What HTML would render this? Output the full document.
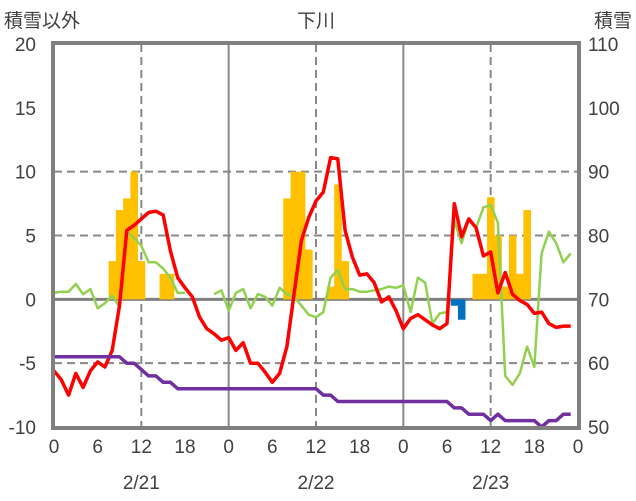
<!DOCTYPE html>
<html><head><meta charset="utf-8"><style>
body{margin:0;background:#fff;}
svg{display:block;font-family:"Liberation Sans","Noto Sans CJK JP",sans-serif;}
</style></head><body>
<svg id="chart" width="636" height="501" viewBox="0 0 636 501" xmlns="http://www.w3.org/2000/svg">
<text x="316" y="27" font-size="19" text-anchor="middle" fill="#404040">下川</text>
<text x="4" y="27" font-size="19" fill="#404040">積雪以外</text>
<text x="632" y="27" font-size="19" text-anchor="end" fill="#404040">積雪</text>
<g id="grid"></g><g id="bars"></g><g id="lines"></g><g id="axes"></g>
</svg>
<script>
const hours=[...Array(72).keys()];
const redSeries=[-5.6,-6.3,-7.5,-5.8,-6.9,-5.6,-4.9,-5.3,-4,-0.5,5.4,5.8,6.3,6.8,6.9,6.6,3.8,1.7,0.9,0.2,-1.4,-2.3,-2.7,-3.2,
-3.0,-4.0,-3.4,-5,-5,-5.7,-6.5,-5.8,-3.7,0.5,4.6,6.4,7.7,8.4,11.1,11,5.4,3.3,1.9,2.0,1.3,-0.2,0.2,-0.9,
-2.3,-1.5,-1.2,-1.6,-2,-2.3,-1.9,7.5,4.9,6.3,5.6,3.4,3.7,0.5,2.1,0.4,-0.1,-0.4,-1.1,-1,-1.9,-2.2,-2.1,-2.1];
const greenSeries=[0.5,0.6,0.6,1.2,0.4,0.8,-0.7,-0.3,0.3,-0.6,5.3,4.8,4.2,2.9,2.9,2.4,1.7,0.5,0.5,null,null,null,0.4,0.7,
-0.9,0.5,0.8,-0.7,0.4,0.2,-0.5,0.9,0.4,0.2,-0.5,-1.2,-1.4,-1,1.7,2.3,0.8,0.8,0.6,0.6,0.7,0.8,1.0,0.9,
1.1,-1.0,1.7,1.3,-1.9,-1.1,-1,6.2,4.4,6.3,5.6,7.2,7.4,6.0,-6,-6.7,-5.8,-3.7,-5.3,3.6,5.3,4.4,2.9,3.6];
const snowDepth=[61,61,61,61,61,61,61,61,61,61,60,60,59,58,58,57,57,56,56,56,56,56,56,56,
56,56,56,56,56,56,56,56,56,56,56,56,56,55,55,54,54,54,54,54,54,54,54,54,
54,54,54,54,54,54,54,53,53,52,52,52,51,52,51,51,51,51,51,50,51,51,52,52];
const barHours=[8,9,10,11,12,15,16,32,33,34,35,38,39,40,58,59,60,61,62,63,64,65,55,56];
const barValues=[3,7,7.9,10,3,2,2,7.9,10,10,3.9,1,9,3,2,2,8,5,1,5,2,7,-0.5,-1.6];
const leftTicks=[20,15,10,5,0,-5,-10];
const rightTicks=[110,100,90,80,70,60,50];
const xTickLabels=["0","6","12","18","0","6","12","18","0","6","12","18","0"];
const dateLabels=["2/21","2/22","2/23"];

const X0=54,X1=578,Y0=44,Y1=427;
const xs=h=>X0+h*(X1-X0)/72;
const yl=v=>Y0+(20-v)*(Y1-Y0)/30;
const yr=v=>Y0+(110-v)*(Y1-Y0)/60;
const NS="http://www.w3.org/2000/svg";
function mk(p,tag,at){const e=document.createElementNS(NS,tag);for(const k in at)e.setAttribute(k,at[k]);document.getElementById(p).appendChild(e);return e;}

[10,5,-5].forEach(v=>{const e=mk('grid','line',{x1:X0,x2:X1,y1:yl(v),y2:yl(v),stroke:'#888','stroke-width':2,'stroke-dasharray':'8,5'});

});
[12,36,60].forEach(h=>{const e=mk('grid','line',{x1:xs(h),x2:xs(h),y1:Y0,y2:Y1,stroke:'#888','stroke-width':2,'stroke-dasharray':'8,5'});

});
[24,48].forEach(h=>{const e=mk('grid','line',{x1:xs(h),x2:xs(h),y1:Y0,y2:Y1,stroke:'#888','stroke-width':2});

});

const bw=(X1-X0)/72;
barHours.forEach((h,i)=>{const v=barValues[i];const y=Math.min(yl(v),yl(0));
const e=mk('bars','rect',{x:xs(h)-bw/2,y:y,width:bw+0.3,height:Math.abs(yl(v)-yl(0)),fill:v>=0?'#FFC000':'#0070C0'});

});

const zl=mk('grid','line',{x1:X0,x2:X1,y1:yl(0),y2:yl(0),stroke:'#808080','stroke-width':3});



function path(arr,f){let d='',pen=false;arr.forEach((v,i)=>{if(v===null){pen=false;return;}d+=(pen?'L':'M')+xs(i).toFixed(1)+','+f(v).toFixed(1);pen=true;});return d;}
const g=mk('lines','path',{d:path(greenSeries,yl),fill:'none',stroke:'#92D050','stroke-width':2.5,'stroke-linejoin':'round'});


const r=mk('lines','path',{d:path(redSeries,yl),fill:'none',stroke:'#FF0000','stroke-width':3.5,'stroke-linejoin':'round'});


const p=mk('lines','path',{d:path(snowDepth,yr),fill:'none',stroke:'#7030A0','stroke-width':3.5,'stroke-linejoin':'round'});



const fr=mk('axes','rect',{x:X0-1,y:Y0-1,width:X1-X0+2,height:Y1-Y0+2,fill:'none',stroke:'#808080','stroke-width':4});


leftTicks.forEach(v=>{const t=mk('axes','text',{x:36,y:yl(v)+7,'font-size':19,'text-anchor':'end',fill:'#404040'});t.textContent=v;

});
rightTicks.forEach(v=>{const t=mk('axes','text',{x:588,y:yr(v)+7,'font-size':19,fill:'#404040'});t.textContent=v;

});
xTickLabels.forEach((s,i)=>{const t=mk('axes','text',{x:xs(i*6),y:453,'font-size':19,'text-anchor':'middle',fill:'#404040'});t.textContent=s;

});
dateLabels.forEach((s,i)=>{const t=mk('axes','text',{x:xs(12+24*i),y:489,'font-size':19,'text-anchor':'middle',fill:'#404040'});t.textContent=s;

});
</script>
</body></html>
